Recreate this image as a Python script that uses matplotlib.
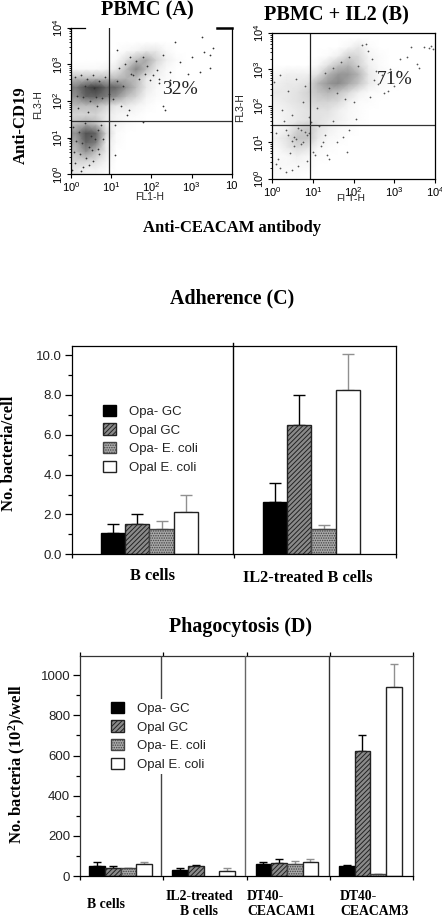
import numpy as np
import matplotlib
matplotlib.use("Agg")
import matplotlib.pyplot as plt
from matplotlib.patches import Patch
from matplotlib.colors import LinearSegmentedColormap

plt.rcParams['font.family'] = ['Liberation Sans', 'DejaVu Sans']
plt.rcParams['hatch.linewidth'] = 0.7
plt.rcParams['axes.linewidth'] = 0.9
SERIF = 'Liberation Serif'

# ---- data -----------------------------------------------------------------
series = ['Opa- GC', 'Opal GC', 'Opa- E. coli', 'Opal E. coli']
c_groups = ['B cells', 'IL2-treated B cells']
c_vals = [[1.05, 2.65], [1.5, 6.5], [1.25, 1.25], [2.1, 8.25]]
c_tops = [[1.5, 3.6], [2.0, 8.0], [1.68, 1.48], [3.0, 10.07]]
c_ticks = [0, 2, 4, 6, 8, 10]
c_ticklabels = ['0.0', '2.0', '4.0', '6.0', '8.0', '10.0']

d_groups = ['B cells', 'IL2-treated\nB cells', 'DT40-\nCEACAM1', 'DT40-\nCEACAM3']
d_vals = [[52, 30, 60, 52], [38, 52, 65, 620], [38, 0, 58, 8], [60, 25, 72, 942]]
d_tops = [[72, 42, 72, 56], [50, 55, 83, 700], [42, 0, 77, 10], [72, 42, 83, 1057]]
d_ticks = [0, 200, 400, 600, 800, 1000]

# flow cytometry: density per quarter decade (top row = 10^3.75..10^4)
density_a = [
 [0,0,0,0,0,0,0,0,0,0,0,0,0,0,0,0],
 [0,0,0,0,0,0,0,0,0,0,0,0,0,0,0,0],
 [0,0,0,0,0,.3,.5,1,1,.3,0,0,0,0,0,0],
 [0,0,0,0,.3,1.5,3,4,2,.7,.2,0,0,0,0,0],
 [.3,.3,.3,.5,1,3,5.5,3,1,.3,0,0,0,0,0,0],
 [3,3,3,3,3,3.5,3,1,.5,.2,0,0,0,0,0,0],
 [6,8,9,7,7,5,3,1,.3,0,0,0,0,0,0,0],
 [5,7,7,6,5,3,2,.5,.2,0,0,0,0,0,0,0],
 [3,3,3,2,1,1,.5,.2,0,0,0,0,0,0,0,0],
 [2,2,2,1,.5,.3,.2,0,0,0,0,0,0,0,0,0],
 [3,4,3,1,.5,.2,0,0,0,0,0,0,0,0,0,0],
 [5,8,7,2,.2,0,0,0,0,0,0,0,0,0,0,0],
 [4,7,6,1,.2,0,0,0,0,0,0,0,0,0,0,0],
 [3,5,3,1,0,0,0,0,0,0,0,0,0,0,0,0],
 [2,2,1.5,.5,0,0,0,0,0,0,0,0,0,0,0,0],
 [1,.5,.5,.2,0,0,0,0,0,0,0,0,0,0,0,0],
]
density_b = [
 [0,0,0,0,0,0,0,0,0,0,0,0,0,0,0,0],
 [0,0,0,0,0,0,0,.5,1.5,.3,0,0,0,0,0,0],
 [0,0,0,0,0,.3,1,3,2.5,.7,.3,0,0,0,0,0],
 [0,0,0,0,.5,2,4,5,3,1,.3,0,0,0,0,0],
 [.5,1,1,1,2,5,7,7,5,1.5,.5,.2,0,0,0,0],
 [1,1.5,1.5,2,5,7,8,6,4,1.5,.5,.2,0,0,0,0],
 [1.5,1.5,2,3,4,5,4,2.5,1,.3,.2,0,0,0,0,0],
 [1,1.5,2,2.5,3,3,2.5,1,.3,.2,0,0,0,0,0,0],
 [.7,1,1.5,2,2,2,1,.5,.2,0,0,0,0,0,0,0],
 [.5,1,1.5,2,2,1.5,1,.5,.2,0,0,0,0,0,0,0],
 [.5,1,3,4,2,1,.5,.3,0,0,0,0,0,0,0,0],
 [1,2,4,4,1.5,.5,.3,0,0,0,0,0,0,0,0,0],
 [.5,1.5,2.5,2,.5,.2,0,0,0,0,0,0,0,0,0,0],
 [.3,.5,1,.5,.2,0,0,0,0,0,0,0,0,0,0,0],
 [.5,.5,.5,.5,0,0,0,0,0,0,0,0,0,0,0,0],
 [.2,.2,.2,0,0,0,0,0,0,0,0,0,0,0,0,0],
]
# individual dots, log10 coordinates
a_dots_x = [3.25,2.59,3.54,3.31,3.46,3.0,2.71,3.46,3.21,2.92,2.46,2.34,2.3,1.39,1.1,1.1,1.8,2.46,2.2,1.97,2.13,1.14,1.47,2.3,
            1.2,1.35,1.62,1.78,1.5,1.9,2.05,2.2,1.15,1.3,1.55,1.7,1.85,.95,1.05,1.25,1.45,.1,.25,.4,.55,.7,.85,.15,.3,.48,.62,.78,
            .05,.2,.35,.5,.68,.12,.28,.44,.6,.75,.08,.22,.38,.52,.66,.1,.3,.55,.8,.18,.42,.64,.03,.26,.46,.7,.34,.58]
a_dots_y = [3.74,3.62,3.44,3.35,3.25,3.21,3.07,2.89,2.8,2.75,2.8,1.75,1.85,1.62,.53,1.35,1.44,2.57,2.48,2.57,2.85,3.39,3.21,3.25,
            2.9,3.0,3.1,3.2,2.75,2.95,2.7,2.6,2.55,2.4,2.7,2.6,2.75,2.2,2.05,1.85,1.75,2.65,2.7,2.6,2.72,2.55,2.65,2.15,2.1,2.0,2.12,2.08,
            1.3,1.15,1.4,1.05,1.2,.9,.85,.75,.95,1.35,.6,.55,.45,.65,.7,.3,.2,.35,.95,1.8,1.7,1.85,.12,.08,.25,.55,2.4,2.35]
b_dots_x = [3.72,3.85,3.9,3.95,3.4,3.32,3.15,3.55,3.6,3.1,2.9,2.7,2.55,2.45,2.35,2.6,2.85,3.0,2.3,2.2,2.5,2.75,2.4,1.35,1.85,.1,.2,.35,.5,.15,
            1.0,1.2,1.4,1.6,1.75,1.9,2.05,.05,.2,.4,.6,.8,.25,.5,.75,.95,1.15,1.3,1.5,1.1,.9,.7,.3,.1,.55,.85,1.05,1.25,.65,.45,
            1.3,1.5,1.7,1.9,1.4,1.6,1.8,2.0,2.1,.4,.6,.8,.5,.7,.9,.35,.55,.75,.65,.85]
b_dots_y = [3.62,3.6,3.65,3.55,3.62,3.35,3.28,3.15,3.05,2.95,3.0,2.85,2.95,3.3,3.5,2.6,2.4,2.55,3.7,3.68,2.7,2.35,2.25,.65,.75,.4,.3,.2,.25,.55,
            .75,.9,.55,1.0,1.15,1.35,1.65,2.65,2.85,2.4,2.75,2.55,1.9,1.75,2.1,1.55,1.45,1.2,1.6,1.95,1.7,1.35,1.6,1.25,.9,.5,.65,1.0,.35,.7,
            2.9,3.05,3.2,3.35,2.5,2.35,2.2,2.1,3.1,1.2,1.1,1.3,1.05,.95,1.25,1.35,1.15,1.0,1.4,1.2]
flow_ticklabels_a_x = [r'$\mathregular{10^{0}}$', r'$\mathregular{10^{1}}$', r'$\mathregular{10^{2}}$', r'$\mathregular{10^{3}}$', '10']
flow_ticklabels = [r'$\mathregular{10^{0}}$', r'$\mathregular{10^{1}}$', r'$\mathregular{10^{2}}$', r'$\mathregular{10^{3}}$', r'$\mathregular{10^{4}}$']
decades = [1, 10, 100, 1000, 10000]

# ---- layout ---------------------------------------------------------------
W, H = 442, 922
fig = plt.figure(figsize=(W / 100, H / 100), dpi=100, facecolor='white')

def axes_px(l, t, r, b):
    return fig.add_axes([l / W, 1 - b / H, (r - l) / W, (b - t) / H])

def ftext(x, y, s, **kw):
    kw.setdefault('ha', 'center'); kw.setdefault('va', 'center')
    return fig.text(x / W, 1 - y / H, s, **kw)

def flow(ax, density, dots_x, dots_y, peak, dotcol, gate_x, gate_y, xlabels):
    d = np.pad(np.array(density, dtype=float)[::-1], 1, mode='edge')
    c = np.arange(-0.125, 4.2, 0.25)
    cmap = LinearSegmentedColormap.from_list('g', ['white', peak])
    ax.pcolormesh(10.0 ** c, 10.0 ** c, d, shading='gouraud', cmap=cmap, vmin=0, vmax=9,
                  rasterized=True)
    ax.scatter(10.0 ** np.array(dots_x), 10.0 ** np.array(dots_y), s=1.6, c=dotcol, lw=0)
    ax.set_xscale('log'); ax.set_yscale('log')
    ax.set_xlim(1, 10000); ax.set_ylim(1, 10000)
    ax.axvline(10 ** gate_x, color='#222', lw=0.9)
    ax.axhline(10 ** gate_y, color='#333', lw=0.9)
    ax.set_xticks(decades, xlabels)
    ax.set_yticks(decades, flow_ticklabels)
    ax.tick_params(axis='both', which='major', length=3, width=0.8, labelsize=8, pad=1.5, direction='out')
    ax.tick_params(axis='both', which='minor', length=1.5, width=0.6, direction='out')
    ax.tick_params(axis='x', top=False, which='both')
    ax.tick_params(axis='x', which='minor', labelbottom=False)
    ax.tick_params(axis='y', which='minor', labelleft=False)
    for lab in ax.get_yticklabels():
        lab.set_rotation(90); lab.set_va('center')

# ---- panel A --------------------------------------------------------------
axA = axes_px(71, 27.7, 231.7, 174.3)
flow(axA, density_a, a_dots_x, a_dots_y, '#3a3a3a', '#333333', 0.94, 1.46, flow_ticklabels_a_x)
axA.spines['top'].set_bounds(1, 10 ** 0.35)
axA.plot([10 ** 3.63, 10 ** 4], [10 ** 4, 10 ** 4], color='black', lw=1.8, clip_on=False)
axA.text(10 ** 2.72, 10 ** 2.32, '32%', family=SERIF, fontsize=14, ha='center', va='center', color='#222')
ftext(147, 10, 'PBMC (A)', family=SERIF, weight='bold', fontsize=14.6)
ftext(150, 197.5, 'FL1-H', fontsize=7.5, color='#222')
ftext(38, 105, 'FL3-H', fontsize=7.5, rotation=90, color='#222')
ftext(21, 125, 'Anti-CD19', family=SERIF, weight='bold', fontsize=12, rotation=90)

# ---- panel B --------------------------------------------------------------
axB = axes_px(272, 33, 435, 179)
flow(axB, density_b, b_dots_x, b_dots_y, '#7a7a7a', '#555555', 0.94, 1.47, flow_ticklabels)
axB.text(10 ** 3.0, 10 ** 2.72, '71%', family=SERIF, fontsize=14, ha='center', va='center', color='#222')
ftext(336, 15, 'PBMC + IL2 (B)', family=SERIF, weight='bold', fontsize=14.6)
fl = ftext(351, 199.5, 'FL1-H', fontsize=7.5, color='#222')
fl.set_clip_box(matplotlib.transforms.Bbox([[300, H - 201], [400, H - 190]]))
fl.set_clip_on(True)
ftext(240, 108, 'FL3-H', fontsize=7.5, rotation=90, color='#222')
ftext(232, 228, 'Anti-CEACAM antibody', family=SERIF, weight='bold', fontsize=12)

# ---- bar panels -----------------------------------------------------------
styles = [
    dict(facecolor='black', edgecolor='black'),
    dict(facecolor='#8a8a8a', edgecolor='#222222', hatch='///////'),
    dict(facecolor='#a8a8a8', edgecolor='#444444', hatch='.......'),
    dict(facecolor='white', edgecolor='#222222'),
]
err_colors = ['black', 'black', '#909090', '#909090']

def bars(ax, centers, vals, tops, width, capsize):
    for i in range(4):
        x = np.array(centers) + (i - 1.5) * width
        v = np.array(vals[i], dtype=float)
        t = np.array(tops[i], dtype=float)
        shown = t > 0
        ax.bar(x[shown], v[shown], width=width, linewidth=1.0, zorder=2, **styles[i])
        ax.errorbar(x[shown], v[shown], yerr=[np.zeros(shown.sum()), (t - v)[shown]], fmt='none',
                    ecolor=err_colors[i], elinewidth=1.0, capsize=capsize, capthick=1.0, zorder=1)

def legend(ax, anchor, fontsize, handle_px):
    handles = [Patch(linewidth=1.0, **s) for s in styles]
    fpx = fontsize * 100 / 72
    lg = ax.legend(handles, series, loc='upper left', bbox_to_anchor=anchor,
                   bbox_transform=fig.transFigure, fontsize=fontsize,
                   handlelength=handle_px / fpx, handleheight=handle_px / fpx * 0.95,
                   handletextpad=1.0, labelspacing=0.42, borderpad=0.2, borderaxespad=0,
                   frameon=True, facecolor='white', edgecolor='none', framealpha=1, fancybox=False)
    for t in lg.get_texts():
        t.set_color('#222')
    lg.set_zorder(6)

# ---- panel C --------------------------------------------------------------
axC = axes_px(71.7, 345.7, 395.7, 554.3)
bars(axC, [0.48, 1.48], c_vals, c_tops, 0.149, 4.6)
axC.set_xlim(0, 2); axC.set_ylim(0, 10.47)
axC.axvline(0.994, ymin=0, ymax=1.015, color='black', lw=1.0, clip_on=False, zorder=3)
axC.set_yticks(c_ticks, c_ticklabels)
axC.set_yticks(np.arange(1, 10, 2), minor=True)
axC.set_xticks([0, 1, 2], ['', '', ''])
axC.tick_params(axis='y', which='major', length=5, width=0.9, labelsize=9.5, pad=2, labelcolor='#222')
axC.tick_params(axis='y', which='minor', length=3, width=0.9)
axC.tick_params(axis='x', length=3, width=0.9)
legend(axC, (100 / W, 1 - 402 / H), 9.5, 13)
ftext(232, 298, 'Adherence (C)', family=SERIF, weight='bold', fontsize=14.4)
ftext(152, 576, c_groups[0], family=SERIF, weight='bold', fontsize=11.8)
ftext(308, 578, c_groups[1], family=SERIF, weight='bold', fontsize=11.8)
ftext(9, 453, 'No. bacteria/cell', family=SERIF, weight='bold', fontsize=12, rotation=90)

# ---- panel D --------------------------------------------------------------
axD = axes_px(80, 655.7, 413.3, 876)
bars(axD, [0.488, 1.484, 2.484, 3.484], d_vals, d_tops, 0.188, 2.6)
axD.set_xlim(0, 4); axD.set_ylim(0, 1097)
for xv, col in zip([0.968, 1.98, 2.992], ['#444444', '#666666', '#333333']):
    axD.axvline(xv, color=col, lw=1.0, zorder=3)
axD.set_yticks(d_ticks, [str(v) for v in d_ticks])
axD.set_yticks(np.arange(100, 1100, 200), minor=True)
axD.set_xticks([0, 1, 2, 3, 4], [''] * 5)
axD.tick_params(axis='y', which='major', length=5, width=0.9, labelsize=9.5, pad=2, labelcolor='#222')
axD.tick_params(axis='y', which='minor', length=3, width=0.9)
axD.tick_params(axis='x', length=3, width=0.9, top=True)
for s in axD.spines.values():
    s.set_color('#333333')
axD.spines['bottom'].set_color('black')
legend(axD, (108 / W, 1 - 699 / H), 9.5, 13)
ftext(241, 627, 'Phagocytosis (D)', family=SERIF, weight='bold', fontsize=14.4)
for x, s in zip([106, 199, 281, 375], d_groups):
    ha = 'center'
    xx = x
    if s.startswith('DT40'):
        ha = 'left'
        xx = {281: 247, 375: 340}[x]
    ftext(xx, 904, s, family=SERIF, weight='bold', fontsize=9.9, ha=ha, va='center', linespacing=1.25)
ftext(17, 764, 'No. bacteria (10$\\mathregular{^{2}}$)/well', family=SERIF, weight='bold', fontsize=12, rotation=90, math_fontfamily='stix')

fig.savefig('out.png', dpi=100)
